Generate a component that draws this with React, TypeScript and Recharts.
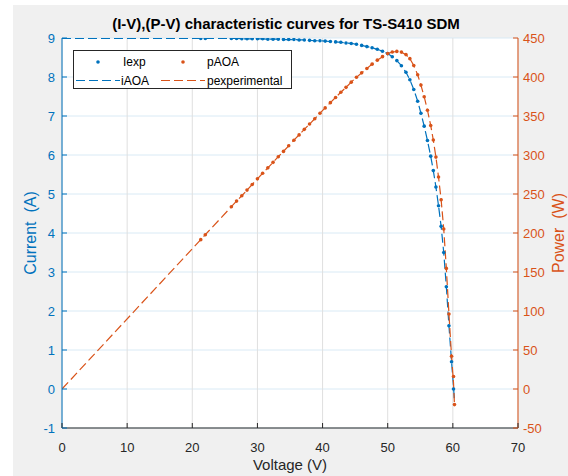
import React from "react";
import { ComposedChart, Line, Scatter, XAxis, YAxis, CartesianGrid } from "recharts";

const BLUE = "#0072BD";
const ORANGE = "#D95319";
const AXIS = "#262626";
const FONT = '"Liberation Sans", Arial, Helvetica, sans-serif';

// measured voltages (V)
const voltage = [
    21.3, 22.0, 26.0, 26.8, 27.6, 28.4, 29.2, 30.0, 30.8, 31.6, 32.4, 33.2, 34.0, 34.8,
    35.6, 36.4, 37.2, 38.0, 38.8, 39.6, 40.4, 41.2, 42.0, 42.8, 43.6, 44.4, 45.2, 46.0,
    46.8, 47.6, 48.4, 49.2, 50.0, 50.7, 51.4, 52.1, 52.8, 53.4, 54.0, 54.6, 55.1, 55.6,
    56.1, 56.6, 57.0, 57.4, 57.8, 58.2, 58.6, 59.0, 59.4, 59.8, 60.1, 60.25,
];

// Iexp (A)
const iExp = [
    8.99, 8.99, 8.99, 8.99, 8.98, 8.98, 8.98, 8.98, 8.98, 8.97, 8.97, 8.97, 8.96, 8.96,
    8.96, 8.95, 8.95, 8.94, 8.93, 8.93, 8.92, 8.91, 8.9, 8.89, 8.87, 8.86, 8.84, 8.81,
    8.78, 8.75, 8.71, 8.66, 8.6, 8.52, 8.42, 8.29, 8.12, 7.93, 7.68, 7.38, 7.07, 6.74,
    6.37, 5.97, 5.6, 5.18, 4.7, 4.17, 3.5, 2.62, 1.62, 0.7, 0.0, null,
];

// pAOA (W)
const pAoa = [
    191.5, 197.8, 233.7, 240.9, 247.8, 255.0, 262.2, 269.4, 276.6, 283.5, 290.6, 297.8, 304.6, 311.8,
    319.0, 325.8, 332.9, 339.7, 346.5, 353.6, 360.4, 367.1, 373.8, 380.5, 386.7, 393.4, 399.6, 405.3,
    410.9, 416.5, 421.6, 426.1, 430.0, 432.0, 432.8, 431.9, 428.7, 423.5, 414.7, 402.9, 389.6, 374.7,
    357.4, 337.9, 319.2, 297.3, 271.7, 242.7, 205.1, 154.6, 96.2, 41.9, 16.0, -20.0,
];

// model / experimental curves start at V = 0
const lineVoltage = [0, ...voltage];

// iAOA (A)
const iAoa = [
    8.99, 8.99, 8.99, 8.99, 8.99, 8.98, 8.98, 8.98, 8.98, 8.98, 8.97, 8.97, 8.97, 8.96, 8.96,
    8.96, 8.95, 8.95, 8.94, 8.93, 8.93, 8.92, 8.91, 8.9, 8.89, 8.87, 8.86, 8.84, 8.81,
    8.78, 8.75, 8.71, 8.66, 8.6, 8.52, 8.42, 8.29, 8.12, 7.93, 7.68, 7.38, 7.07, 6.74,
    6.37, 5.97, 5.6, 5.18, 4.7, 4.17, 3.5, 2.62, 1.62, 0.7, 0.06, -0.33,
];

// pexperimental (W)
const pExp = [
    0, 191.5, 197.8, 233.7, 240.9, 247.8, 255.0, 262.2, 269.4, 276.6, 283.5, 290.6, 297.8, 304.6, 311.8,
    319.0, 325.8, 332.9, 339.7, 346.5, 353.6, 360.4, 367.1, 373.8, 380.5, 386.7, 393.4, 399.6, 405.3,
    410.9, 416.5, 421.6, 426.1, 430.0, 432.0, 432.8, 431.9, 428.7, 423.5, 414.7, 402.9, 389.6, 374.7,
    357.4, 337.9, 319.2, 297.3, 271.7, 242.7, 205.1, 154.6, 96.2, 41.9, 8.0, -20.0,
];

const xTicks = [0, 10, 20, 30, 40, 50, 60, 70];
const currentTicks = [-1, 0, 1, 2, 3, 4, 5, 6, 7, 8, 9];
const powerTicks = [-50, 0, 50, 100, 150, 200, 250, 300, 350, 400, 450];

const ivPoints = voltage
    .map((v, k) => ({ v, i: iExp[k] }))
    .filter((d) => d.i !== null);
const pvPoints = voltage.map((v, k) => ({ v, p: pAoa[k] }));
const ivLine = lineVoltage.map((v, k) => ({ v, i: iAoa[k] }));
const pvLine = lineVoltage.map((v, k) => ({ v, p: pExp[k] }));

const BottomTick = (props: any) => {
    const { x, y, payload } = props;
    return (
        <g>
            <line x1={x} y1={y} x2={x} y2={y - 5} stroke={AXIS} />
            <text x={x} y={y + 15} dy="0.71em" textAnchor="middle" fill={AXIS} fontSize={13}>
                {payload.value}
            </text>
        </g>
    );
};

const TopTick = (props: any) => {
    const { x, y } = props;
    return <line x1={x} y1={y} x2={x} y2={y + 5} stroke={AXIS} />;
};

const LeftTick = (props: any) => {
    const { x, y, payload } = props;
    return (
        <g>
            <line x1={x} y1={y} x2={x + 5} y2={y} stroke={BLUE} />
            <text x={x - 7} y={y} dy="0.35em" textAnchor="end" fill={BLUE} fontSize={13}>
                {payload.value}
            </text>
        </g>
    );
};

const RightTick = (props: any) => {
    const { x, y, payload } = props;
    return (
        <g>
            <line x1={x} y1={y} x2={x - 5} y2={y} stroke={ORANGE} />
            <text x={x + 5} y={y} dy="0.35em" textAnchor="start" fill={ORANGE} fontSize={13}>
                {payload.value}
            </text>
        </g>
    );
};

const dot = (color: string) => (p: any) => <circle cx={p.cx} cy={p.cy} r={1.8} fill={color} />;

function Legend() {
    return (
        <svg width={219} height={39} style={{ position: "absolute", left: 73, top: 50 }}>
            <rect x={0.5} y={0.5} width={218} height={38} fill="#fff" stroke={AXIS} />
            <circle cx={25} cy={12} r={1.8} fill={BLUE} />
            <text x={50} y={12} dy="0.35em" fontSize={12} fill="#000">Iexp</text>
            <circle cx={110} cy={12} r={1.8} fill={ORANGE} />
            <text x={134} y={12} dy="0.35em" fontSize={12} fill="#000">pAOA</text>
            <line x1={3} y1={30.5} x2={47} y2={30.5} stroke={BLUE} strokeWidth={1.2} strokeDasharray="9 4" />
            <text x={48} y={30.5} dy="0.35em" fontSize={12} fill="#000">iAOA</text>
            <line x1={88} y1={30.5} x2={132} y2={30.5} stroke={ORANGE} strokeWidth={1.2} strokeDasharray="9 4" />
            <text x={134} y={30.5} dy="0.35em" fontSize={12} fill="#000">pexperimental</text>
        </svg>
    );
}

export default function App() {
    return (
        <div style={{ position: "absolute", left: 0, top: 0, width: 568, height: 476, background: "#fff", overflow: "hidden", fontFamily: FONT }}>
            <div style={{ position: "absolute", left: 13, top: 5, right: 0, bottom: 0, background: "#F0F0F0" }} />
            <div style={{ position: "absolute", left: 0, top: 0 }}>
                <ComposedChart width={568} height={476} margin={{ top: 38, right: 0, bottom: 4, left: 0 }}>
                    <CartesianGrid vertical={false} stroke="#D9EAF5" fill="#fff" />
                    <CartesianGrid horizontal={false} stroke="#DFDFDF" />
                    <XAxis
                        dataKey="v"
                        type="number"
                        domain={[0, 70]}
                        ticks={xTicks}
                        allowDataOverflow
                        height={44}
                        tickSize={0}
                        tickMargin={0}
                        stroke={AXIS}
                        tick={<BottomTick />}
                        label={{ value: "Voltage (V)", position: "insideBottom", offset: 2, fill: AXIS, fontSize: 15 }}
                    />
                    <XAxis
                        xAxisId="top"
                        orientation="top"
                        dataKey="v"
                        type="number"
                        domain={[0, 70]}
                        ticks={xTicks}
                        allowDataOverflow
                        height={0}
                        tickSize={0}
                        tickMargin={0}
                        stroke={AXIS}
                        tick={<TopTick />}
                    />
                    <YAxis
                        type="number"
                        domain={[-1, 9]}
                        ticks={currentTicks}
                        allowDataOverflow
                        width={62}
                        tickSize={0}
                        tickMargin={0}
                        stroke={BLUE}
                        tick={<LeftTick />}
                        label={{ value: "Current\u00A0 (A)", angle: -90, position: "insideLeft", offset: 30, fill: BLUE, fontSize: 16, style: { textAnchor: "middle" } }}
                    />
                    <YAxis
                        yAxisId="right"
                        orientation="right"
                        type="number"
                        domain={[-50, 450]}
                        ticks={powerTicks}
                        allowDataOverflow
                        width={50}
                        tickSize={0}
                        tickMargin={0}
                        stroke={ORANGE}
                        tick={<RightTick />}
                        label={{ value: "Power\u00A0 (W)", angle: -90, position: "insideRight", offset: 10, fill: ORANGE, fontSize: 16, style: { textAnchor: "middle" } }}
                    />
                    <Line
                        data={ivLine}
                        dataKey="i"
                        type="linear"
                        stroke={BLUE}
                        strokeWidth={1.2}
                        strokeDasharray="9 4"
                        dot={false}
                        isAnimationActive={false}
                    />
                    <Line
                        data={pvLine}
                        dataKey="p"
                        yAxisId="right"
                        type="linear"
                        stroke={ORANGE}
                        strokeWidth={1.2}
                        strokeDasharray="9 4"
                        dot={false}
                        isAnimationActive={false}
                    />
                    <Scatter data={ivPoints} dataKey="i" fill={BLUE} shape={dot(BLUE)} isAnimationActive={false} />
                    <Scatter data={pvPoints} dataKey="p" yAxisId="right" fill={ORANGE} shape={dot(ORANGE)} isAnimationActive={false} />
                </ComposedChart>
            </div>
            <div style={{ position: "absolute", left: 58, top: 15, width: 456, textAlign: "center", fontWeight: "bold", fontSize: 15, lineHeight: "17px", color: "#000" }}>
                (I-V),(P-V) characteristic curves for TS-S410 SDM
            </div>
            <Legend />
        </div>
    );
}
